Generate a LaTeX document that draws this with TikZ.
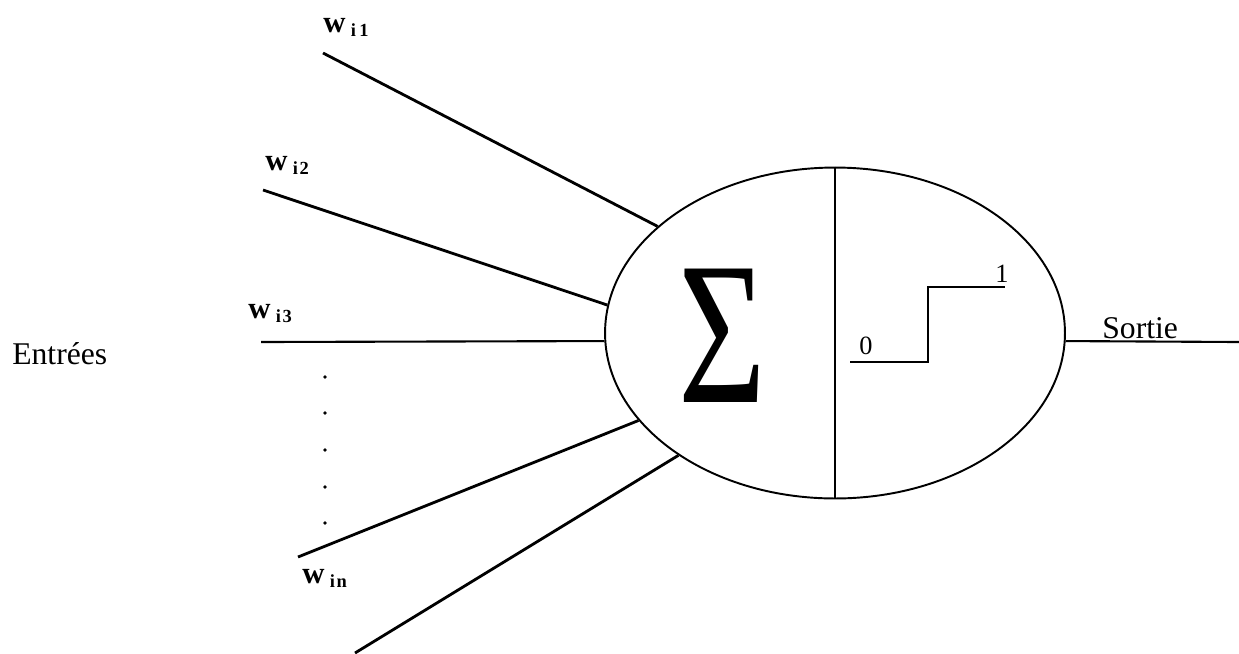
\documentclass[tikz,border=0pt]{standalone}
\usepackage{fontspec}
\setmainfont{Liberation Serif}
\usetikzlibrary{shapes.geometric}

\newcommand{\wlab}[1]{{\fontsize{17.5}{17.5}\selectfont\bfseries w}\hspace{3pt}%
  \raisebox{-2.6pt}{\fontsize{10.5}{10.5}\selectfont\bfseries #1}}

\begin{document}
\begin{tikzpicture}[
    x=0.02cm, y=-0.02cm,
    cell/.style={
        ellipse, draw=black, line width=1.1pt, inner sep=0pt,
        minimum width=9.2cm, minimum height=6.62cm
    },
    wire/.style={line width=1.6pt},
    thin wire/.style={line width=1.2pt},
    lbl/.style={inner sep=0pt, anchor=base west},
    txt/.style={font=\fontsize{18}{18}\selectfont, inner sep=0pt, anchor=base west},
    num/.style={font=\fontsize{15}{15}\selectfont, inner sep=0pt}
]
\useasboundingbox (0,0) rectangle (1239,653);
% Neuron -- ellipse split in two
\node[cell] (neuron) at (835,333) {};
\draw[thin wire] (neuron.north) -- (neuron.south);
\node[inner sep=0pt] (sum) at (722,336)
  {\scalebox{0.74}[1]{\fontsize{116}{116}\selectfont\char"03A3}};
% Step function
\draw[line width=1.1pt] (850,362) -- (928,362) -- (928,287) -- (1005,287);
\node[num] (zero) at (866,346) {0};
\node[num] (one) at (1002,274) {1};
% Inputs
\coordinate (in1) at (323,53);
\coordinate (in2) at (263,190);
\coordinate (in3) at (261,342);
\coordinate (in4) at (298,557);
\coordinate (in5) at (355,653);
\draw[wire] (in1) -- (neuron.149.6);
\draw[wire] (in2) -- (neuron.173.8);
\draw[thin wire] (in3) -- (neuron.182.2);
\draw[wire] (in4) -- (neuron.204.5);
\draw[wire] (in5) -- (neuron.218.3);
\node[lbl] (w1) at (323,32) {\wlab{i\hspace{2pt}1}};
\node[lbl] (w2) at (265,170) {\wlab{i\hspace{1pt}2}};
\node[lbl] (w3) at (248,318) {\wlab{i\hspace{1pt}3}};
\node[lbl] (wn) at (302,583) {\wlab{i\hspace{1pt}n}};
\foreach \y in {377,413,450,487,523}
  \fill (325,\y) circle (1.8);
% Output
\coordinate (out) at (1239,342);
\draw[thin wire] (neuron.358) -- (out);
\node[txt] (sortie) at (1102,338) {Sortie};
\node[txt] (entrees) at (12,364) {Entrées};
\end{tikzpicture}
\end{document}
